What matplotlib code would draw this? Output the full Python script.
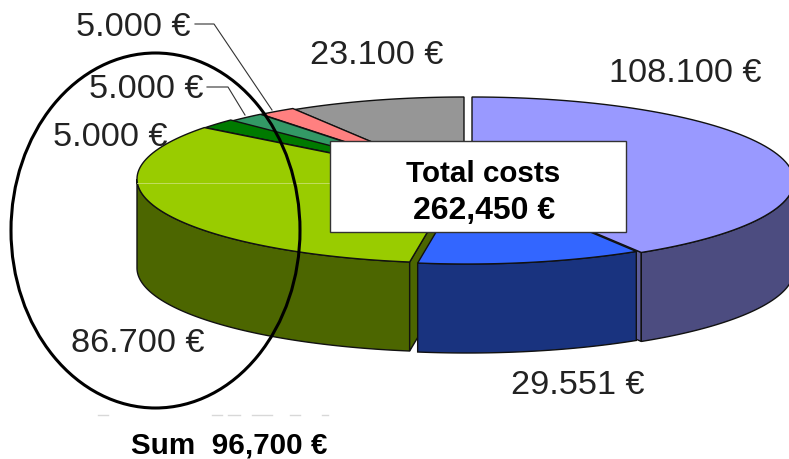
import numpy as np
import matplotlib
matplotlib.use('Agg')
import matplotlib.pyplot as plt
from matplotlib.patches import Ellipse, Polygon, Rectangle

plt.rcParams['font.family'] = ['Liberation Sans', 'DejaVu Sans']

# slices, clockwise from 12 o'clock
values = [108100, 29551, 86700, 5000, 5000, 5000, 23100]
labels = ['108.100 €', '29.551 €', '86.700 €', '5.000 €', '5.000 €', '5.000 €', '23.100 €']
top_colors = ['#9999ff', '#3366ff', '#99cc00', '#007a00', '#339966', '#ff8080', '#969696']
side_colors = ['#4c4c80', '#19337f', '#4c6600', '#004000', '#1a4d33', '#804040', '#4b4b4b']

# pie look, in pixels
rx, ry, depth = 322, 84, 89
centers = [(472, 181), (467, 180), (459, 179), (460, 179), (461, 180), (462, 180), (464, 181)]

fig = plt.figure(figsize=(7.89, 4.59), dpi=100)
ax = fig.add_axes([0, 0, 1, 1])
ax.set_xlim(0, 789)
ax.set_ylim(459, 0)
ax.axis('off')

cum = np.cumsum([0] + values) / sum(values) * 360


def rim(i, t0, t1):
    t = np.radians(np.linspace(t0, t1, 80))
    cx, cy = centers[i]
    return np.column_stack([cx + rx * np.sin(t), cy - ry * np.cos(t)])


def draw_slice(i, z):
    t0, t1 = cum[i], cum[i + 1]
    cx, cy = centers[i]
    drop = np.array([0, depth])
    # outer wall, only the front half of the ellipse shows
    a, b = max(t0, 90), min(t1, 270)
    if a < b:
        pts = rim(i, a, b)
        ax.add_patch(Polygon(np.vstack([pts, pts[::-1] + drop]), fc=side_colors[i],
                             ec='#111111', lw=1, zorder=z))
    # cut face
    if i == 0:
        p = rim(i, t1, t1)[0]
        ax.add_patch(Polygon([(cx, cy), p, p + drop, (cx, cy + depth)], fc='#5c5c99',
                             ec='#111111', lw=1, zorder=z - 0.5))
    if i == 2:
        p = rim(i, t0, t0)[0]
        ax.add_patch(Polygon([(cx, cy), p, p + drop, (cx, cy + depth)], fc=side_colors[i],
                             ec='#111111', lw=1, zorder=z + 0.1))
    ax.add_patch(Polygon(np.vstack([[(cx, cy)], rim(i, t0, t1)]), fc=top_colors[i],
                         ec='#111111', lw=1, zorder=z + 0.2))


for i, z in zip([6, 5, 4, 3, 0, 2, 1], [1, 2, 3, 4, 5, 6, 7]):
    draw_slice(i, z)

# thin light line across the green top
ax.plot([137, 330], [183, 183], color='#c8e070', lw=0.6, zorder=7.5)

# value labels
label_pos = [(685, 74), (578, 386), (138, 344), (110, 138), (146, 90), (133, 28), (377, 56)]
for txt, (x, y) in zip(labels, label_pos):
    ax.text(x, y, txt, fontsize=24.7, color='#222222', ha='center', va='center', zorder=9)

# leader lines
ax.plot([195, 214, 272], [24, 24, 110], color='#333333', lw=0.8, zorder=9)
ax.plot([207, 228, 245], [87, 87, 115], color='#333333', lw=0.8, zorder=9)

# total box
ax.add_patch(Rectangle((330, 141), 296, 91, fc='white', ec='#333333', lw=1, zorder=10))
ax.text(483.5, 174.5, 'Total costs', fontsize=21.3, fontweight='bold', color='black',
        ha='center', va='center', zorder=11)
ax.text(484.5, 210.5, '262,450 €', fontsize=23, fontweight='bold', color='black',
        ha='center', va='center', zorder=11)

# hand drawn circle round the small slices
ax.add_patch(Ellipse((155.5, 230.5), 289, 355, fc='none', ec='black', lw=2.2, zorder=12))

# leftovers of a clipped label under the circle
for x0, x1 in [(98, 108), (212, 222), (228, 240), (252, 272), (290, 300), (322, 328)]:
    ax.plot([x0, x1], [415, 415], color='#d8d8d8', lw=1, zorder=1)

ax.text(229, 445, 'Sum  96,700 €', fontsize=21.3, fontweight='bold', color='black',
        ha='center', va='center', zorder=11)

fig.savefig('out.png', dpi=100)
